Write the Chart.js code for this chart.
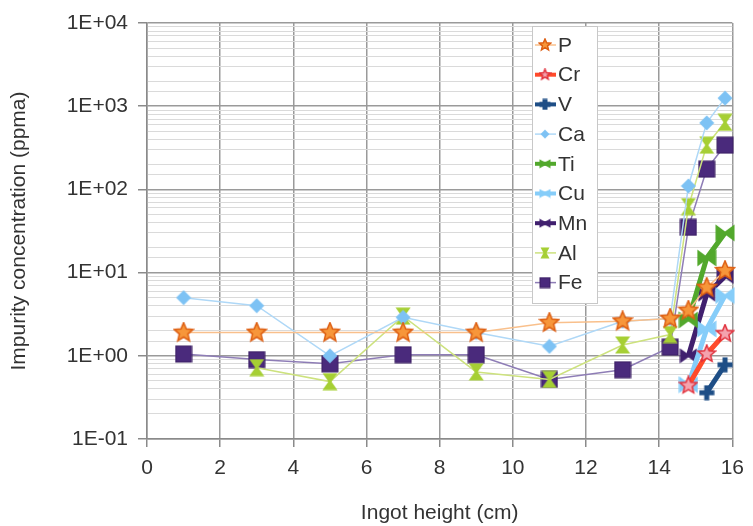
<!DOCTYPE html>
<html>
<head>
<meta charset="utf-8">
<script src="https://cdn.jsdelivr.net/npm/chart.js@4.4.1/dist/chart.umd.min.js"></script>
<style>
  html, body { margin: 0; padding: 0; background: #fff; }
  #wrap { width: 753px; height: 526px; }
</style>
</head>
<body>
<div id="wrap"><canvas id="impChart" width="753" height="526"></canvas></div>
<script>
// ingot heights (cm)
var xMain = [1, 3, 5, 7, 9, 11, 13, 14.3, 14.8, 15.3, 15.8];
var xAl   = [3, 5, 7, 9, 11, 13, 14.3, 14.8, 15.3, 15.8];
var xTail = [14.8, 15.3, 15.8];
var xV    = [15.3, 15.8];

// impurity concentration (ppma)
var pVals  = [1.9, 1.9, 1.9, 1.9, 1.9, 2.5, 2.6, 2.8, 3.5, 6.6, 10.5];
var crVals = [0.44, 1.05, 1.85];
var vVals  = [0.36, 0.78];
var caVals = [5.0, 4.0, 1.0, 2.9, 1.9, 1.3, 2.6, 2.8, 110, 630, 1250];
var tiVals = [2.7, 15, 30];
var cuVals = [0.45, 2.1, 5.3];
var mnVals = [1.0, 5.5, 9.0];
var alVals = [0.72, 0.49, 3.0, 0.64, 0.52, 1.35, 1.8, 62, 340, 640];
var feVals = [1.05, 0.9, 0.8, 1.03, 1.03, 0.52, 0.68, 1.27, 35, 175, 340];

var yTickLabel = function (v) {
  var e = Math.round(Math.log10(v));
  return '1E' + (e < 0 ? '-' : '+') + String(Math.abs(e)).padStart(2, '0');
};
var isDecade = function (v) {
  var l = Math.log10(v);
  return Math.abs(l - Math.round(l)) < 1e-6;
};

function pts(xs, ys) {
  return ys.map(function (y, i) { return { x: xs[i], y: y }; });
}

// small canvases used as point markers
function mk(w, h, draw) {
  var c = document.createElement('canvas');
  c.width = w; c.height = h;
  var g = c.getContext('2d');
  g.translate(w / 2, h / 2);
  draw(g, w, h);
  return c;
}
function star(size, fill, stroke) {
  return mk(size, size, function (g) {
    var R = size / 2 - 1, r = R * 0.45;
    g.beginPath();
    for (var i = 0; i < 10; i++) {
      var a = -Math.PI / 2 + i * Math.PI / 5;
      var rr = i % 2 ? r : R;
      g.lineTo(Math.cos(a) * rr, Math.sin(a) * rr);
    }
    g.closePath();
    g.fillStyle = fill; g.fill();
    g.lineWidth = 1.5; g.strokeStyle = stroke; g.stroke();
  });
}
function diamond(size, fill) {
  return mk(size, size, function (g) {
    var s = size / 2 - 0.5;
    g.beginPath();
    g.moveTo(0, -s); g.lineTo(s, 0); g.lineTo(0, s); g.lineTo(-s, 0);
    g.closePath(); g.fillStyle = fill; g.fill();
  });
}
function square(size, fill, stroke) {
  return mk(size, size, function (g) {
    var s = size / 2 - 1;
    g.fillStyle = fill; g.fillRect(-s, -s, 2 * s, 2 * s);
    g.strokeStyle = stroke; g.lineWidth = 1; g.strokeRect(-s, -s, 2 * s, 2 * s);
  });
}
function hourglass(w, h, fill) {
  return mk(w, h, function (g) {
    var a = w / 2 - 0.5, b = h / 2 - 0.5;
    g.beginPath();
    g.moveTo(-a, -b); g.lineTo(a, -b); g.lineTo(1.5, 0); g.lineTo(a, b);
    g.lineTo(-a, b); g.lineTo(-1.5, 0); g.closePath();
    g.fillStyle = fill; g.fill();
  });
}
function bowtie(w, h, fill) {
  return mk(w, h, function (g) {
    var a = w / 2 - 0.5, b = h / 2 - 0.5;
    g.beginPath();
    g.moveTo(-a, -b); g.lineTo(0, -1.5); g.lineTo(a, -b); g.lineTo(a, b);
    g.lineTo(0, 1.5); g.lineTo(-a, b); g.closePath();
    g.fillStyle = fill; g.fill();
  });
}
function cross(size, fill) {
  return mk(size, size, function (g) {
    var s = size / 2 - 0.5, t = 2.5;
    g.fillStyle = fill;
    g.fillRect(-s, -t, 2 * s, 2 * t);
    g.fillRect(-t, -s, 2 * t, 2 * s);
  });
}

var series = [
  { label: 'P',  data: pts(xMain, pVals),  line: '#F9C08C', lw: 1.5, mark: star(22, '#F7963A', '#DD5E12'), leg: star(14, '#F7963A', '#DD5E12') },
  { label: 'Cr', data: pts(xTail, crVals), line: '#FF4B2B', lw: 5,   mark: star(20, '#F4A3AE', '#E0303C'), leg: star(13, '#F4A3AE', '#E0303C') },
  { label: 'V',  data: pts(xV, vVals),     line: '#1E4E86', lw: 5,   mark: cross(16, '#1E4E86'),             leg: cross(12, '#1E4E86') },
  { label: 'Ca', data: pts(xMain, caVals), line: '#AFD8F7', lw: 1.5, mark: diamond(16, '#7DC2F4'),           leg: diamond(10, '#7DC2F4') },
  { label: 'Ti', data: pts(xTail, tiVals), line: '#52A82C', lw: 5,   mark: bowtie(20, 18, '#52A82C'),        leg: bowtie(12, 10, '#52A82C') },
  { label: 'Cu', data: pts(xTail, cuVals), line: '#86CDF9', lw: 5,   mark: bowtie(20, 18, '#86CDF9'),        leg: bowtie(12, 10, '#86CDF9') },
  { label: 'Mn', data: pts(xTail, mnVals), line: '#40206E', lw: 5,   mark: bowtie(18, 16, '#40206E'),        leg: bowtie(12, 10, '#40206E') },
  { label: 'Al', data: pts(xAl, alVals),   line: '#CDE27E', lw: 1.5, mark: hourglass(16, 18, '#A6CF34'),     leg: hourglass(10, 12, '#A6CF34') },
  { label: 'Fe', data: pts(xMain, feVals), line: '#8E7DB6', lw: 1.5, mark: square(18, '#4A2A7C', '#3A1F62'), leg: square(12, '#4A2A7C', '#3A1F62') }
];

var datasets = series.map(function (s) {
  return {
    label: s.label,
    data: s.data,
    borderColor: s.line,
    backgroundColor: s.line,
    borderWidth: s.lw,
    pointStyle: s.mark,
    pointRadius: 9,
    tension: 0,
    clip: false
  };
});

// legend drawn inside the plot, line + marker sample
var boxLegend = {
  id: 'boxLegend',
  afterDraw: function (chart) {
    var ctx = chart.ctx;
    ctx.save();
    ctx.fillStyle = '#fff';
    ctx.strokeStyle = '#c8c8c8';
    ctx.lineWidth = 1;
    ctx.fillRect(532.5, 26.5, 65, 277);
    ctx.strokeRect(532.5, 26.5, 65, 277);
    ctx.font = '21px "Liberation Sans", Arial, sans-serif';
    ctx.textBaseline = 'middle';
    series.forEach(function (s, i) {
      var y = 45 + i * 29.7;
      ctx.strokeStyle = s.line;
      ctx.lineWidth = Math.min(s.lw, 4);
      ctx.beginPath(); ctx.moveTo(535, y); ctx.lineTo(556, y); ctx.stroke();
      ctx.drawImage(s.leg, 545 - s.leg.width / 2, y - s.leg.height / 2);
      ctx.fillStyle = '#333';
      ctx.fillText(s.label, 558, y + 1);
    });
    ctx.restore();
  }
};

Chart.defaults.font.family = '"Liberation Sans", Arial, sans-serif';
Chart.defaults.color = '#333';

var ctx = document.getElementById('impChart');
var impChart = new Chart(ctx, {
  type: 'line',
  data: { datasets: datasets },
  options: {
    responsive: false,
    animation: false,
    layout: { padding: { top: 23, right: 14, left: 0, bottom: 0 } },
    plugins: { legend: { display: false }, tooltip: { enabled: false } },
    scales: {
      x: {
        type: 'linear',
        min: 0, max: 16,
        ticks: { stepSize: 2, font: { size: 21 }, padding: 9, color: '#333' },
        grid: { color: '#9a9a9a', lineWidth: 1.5, tickLength: 8, tickColor: '#8a8a8a' },
        border: { color: '#8a8a8a', width: 1.5 },
        title: { display: true, text: 'Ingot height (cm)', font: { size: 21 }, padding: { top: 0, bottom: 0 }, color: '#333' },
        afterFit: function (scale) { scale.height = 87; }
      },
      y: {
        type: 'logarithmic',
        min: 0.1, max: 10000,
        ticks: {
          autoSkip: false,
          font: { size: 21 },
          padding: 10,
          color: '#333',
          callback: function (v) { return isDecade(v) ? yTickLabel(v) : ''; }
        },
        grid: {
          color: function (c) { return isDecade(c.tick.value) ? '#9a9a9a' : '#dadada'; },
          lineWidth: function (c) { return isDecade(c.tick.value) ? 1.5 : 1; },
          tickLength: 9,
          tickColor: function (c) { return isDecade(c.tick.value) ? '#8a8a8a' : 'rgba(0,0,0,0)'; }
        },
        border: { color: '#8a8a8a', width: 1.5 },
        title: { display: true, text: 'Impurity concentration (ppma)', font: { size: 21 }, padding: { top: 7, bottom: 0 }, color: '#333' },
        afterFit: function (scale) { scale.width = 147; }
      }
    }
  },
  plugins: [boxLegend]
});
</script>
</body>
</html>
